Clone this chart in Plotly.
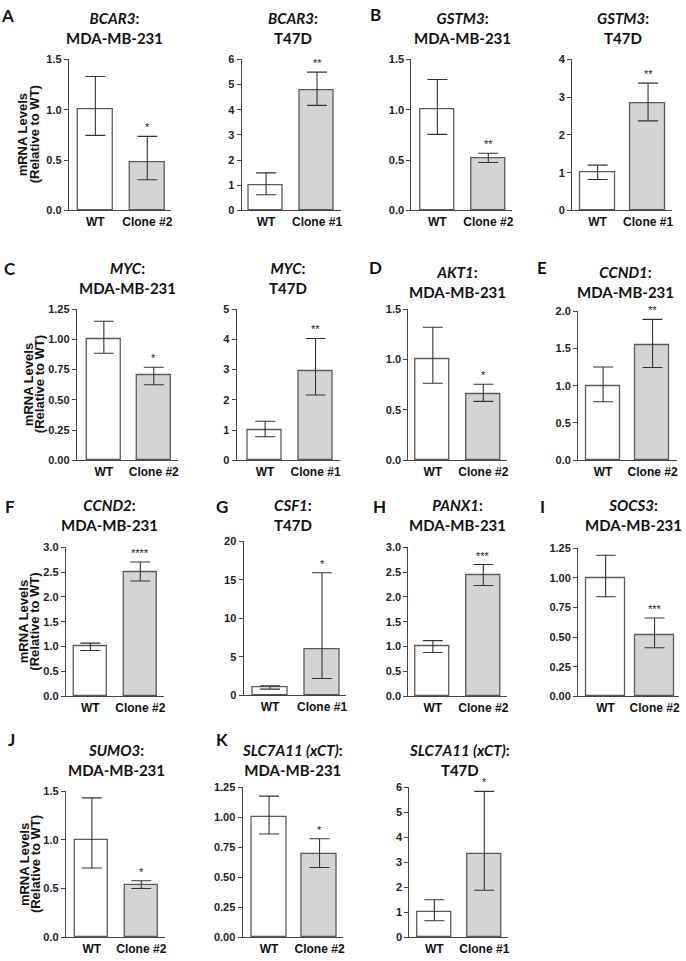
import plotly.graph_objects as go

# ---------------- data ----------------
genes = ["BCAR3", "BCAR3", "GSTM3", "GSTM3", "MYC", "MYC", "AKT1", "CCND1",
         "CCND2", "CSF1", "PANX1", "SOCS3", "SUMO3", "SLC7A11 (xCT)", "SLC7A11 (xCT)"]
cell_lines = ["MDA-MB-231", "T47D", "MDA-MB-231", "T47D", "MDA-MB-231", "T47D",
              "MDA-MB-231", "MDA-MB-231", "MDA-MB-231", "T47D", "MDA-MB-231",
              "MDA-MB-231", "MDA-MB-231", "MDA-MB-231", "T47D"]
clone_labels = ["Clone #2", "Clone #1", "Clone #2", "Clone #1", "Clone #2", "Clone #1",
                "Clone #2", "Clone #2", "Clone #2", "Clone #1", "Clone #2", "Clone #2",
                "Clone #2", "Clone #2", "Clone #1"]
panel_letters = ["A", "", "B", "", "C", "", "D", "E", "F", "G", "H", "I", "J", "K", ""]

wt_mean = [1.0, 1.0, 1.0, 1.0, 1.0, 1.0, 1.0, 1.0, 1.0, 1.0, 1.0, 1.0, 1.0, 1.0, 1.0]
wt_upper = [1.33, 1.49, 1.30, 1.20, 1.15, 1.29, 1.32, 1.25, 1.07, 1.24, 1.12, 1.19, 1.43, 1.175, 1.50]
wt_lower = [0.745, 0.62, 0.755, 0.82, 0.885, 0.78, 0.765, 0.785, 0.92, 0.80, 0.88, 0.84, 0.71, 0.86, 0.66]

clone_mean = [0.48, 4.78, 0.52, 2.83, 0.70, 2.94, 0.66, 1.54, 2.50, 5.94, 2.44, 0.52, 0.54, 0.69, 3.32]
clone_upper = [0.735, 5.49, 0.567, 3.37, 0.77, 4.03, 0.755, 1.89, 2.70, 15.9, 2.65, 0.66, 0.58, 0.82, 5.83]
clone_lower = [0.305, 4.17, 0.475, 2.37, 0.625, 2.16, 0.585, 1.245, 2.32, 2.18, 2.23, 0.41, 0.50, 0.58, 1.88]

significance = ["*", "**", "**", "**", "*", "**", "*", "**", "****", "*", "***", "***", "*", "*", "*"]

y_max = [1.5, 6, 1.5, 4, 1.25, 5, 1.5, 2.0, 3.0, 20, 3.0, 1.25, 1.5, 1.25, 6]
y_step = [0.5, 1, 0.5, 1, 0.25, 1, 0.5, 0.5, 0.5, 5, 0.5, 0.25, 0.5, 0.25, 1]
y_decimals = [1, 0, 1, 0, 2, 0, 1, 1, 1, 0, 1, 2, 1, 2, 0]

# ---------------- layout geometry (pixels) ----------------
W, H = 686, 961
# (axis left, WT centre, clone centre, bar width, y of zero, y of max)
geom = [
    (69, 95.5, 147.5, 35, 207, 54),
    (242, 266.5, 317.5, 34, 207, 54),
    (412, 438, 489, 34, 207, 54),
    (573, 598.5, 649, 35, 207, 54),
    (77, 104, 154, 34, 460, 307),
    (237, 265.5, 316, 34, 460, 307),
    (409, 433.5, 484, 34, 460, 307),
    (579, 604, 653.5, 34, 460, 309),
    (66, 90.5, 140.5, 33, 699, 548),
    (244, 270.5, 322.5, 35, 698, 542),
    (409, 433.5, 484, 34, 699, 548),
    (579, 606.5, 655.5, 39, 699, 549),
    (66, 92, 141.5, 33, 943, 795),
    (243, 269.5, 320, 35, 943, 791),
    (410, 435, 485, 34, 943, 791),
]
# title (centre x, middle y of the two lines)
title_pos = [
    (115, 22), (293, 22), (463, 22), (624, 22),
    (128, 275.5), (288, 275.5), (458, 279), (626, 279),
    (110, 515), (293, 515), (458, 515.5), (634, 515.5),
    (117, 763.5), (293, 763.5), (460, 763.5),
]
letter_pos = [(8, 10), None, (376, 9), None, (10, 266), None, (376, 265), (543, 265),
              (10, 507), (222, 507), (380, 507), (543, 507), (12, 743), (222, 743), None]
ylabel_pos = [(22, 34, 130), (28, 39, 383), (23, 34.5, 623), (24, 35, 869)]

TICK_FONT = dict(family="Liberation Sans, Arial", size=11, color="#222", weight="bold")
XLAB_FONT = dict(family="Liberation Sans, Arial", size=12, color="#111", weight="bold")
TITLE_FONT = dict(family="Lato, Open Sans", size=15, color="#111", weight="bold")
AXIS_COLOR = "#444"

fig = go.Figure()
layout = {}
annotations = []

def px(x):
    return x / W

def py(y):
    return 1 - y / H

for i in range(len(genes)):
    n = i + 1
    sfx = "" if n == 1 else str(n)
    xa, ya = "x" + sfx, "y" + sfx
    left, c0, c1, bw, yb, yt = geom[i]
    s = c1 - c0
    right = c1 + 24
    xr = [(left - c0) / s, (right - c0) / s]

    fig.add_trace(go.Bar(
        x=[0, 1], y=[wt_mean[i], clone_mean[i]], width=bw / s,
        marker=dict(color=["#ffffff", "#d4d4d4"], line=dict(color="#5a5a5a", width=1.3)),
        error_y=dict(type="data", symmetric=False,
                     array=[wt_upper[i] - wt_mean[i], clone_upper[i] - clone_mean[i]],
                     arrayminus=[wt_mean[i] - wt_lower[i], clone_mean[i] - clone_lower[i]],
                     color="#333333", thickness=1.1, width=10),
        xaxis=xa, yaxis=ya, showlegend=False, hoverinfo="skip"))

    layout["xaxis" + sfx] = dict(
        domain=[px(left), px(right)], range=xr, anchor=ya,
        tickmode="array", tickvals=[0, 1], ticktext=["WT", clone_labels[i]],
        showline=True, linecolor=AXIS_COLOR, linewidth=1.2, ticks="", ticklen=0,
        showgrid=False, zeroline=False, tickfont=XLAB_FONT, fixedrange=True)
    layout["yaxis" + sfx] = dict(
        domain=[py(yb), py(yt)], range=[0, y_max[i]], anchor=xa,
        tickmode="linear", tick0=0, dtick=y_step[i], tickformat=f".{y_decimals[i]}f",
        ticks="outside", ticklen=4, tickwidth=1.2, tickcolor=AXIS_COLOR,
        showline=True, linecolor=AXIS_COLOR, linewidth=1.2,
        showgrid=False, zeroline=False, tickfont=TICK_FONT, fixedrange=True)

    # significance stars
    annotations.append(dict(
        x=1, y=clone_upper[i], xref=xa, yref=ya, text=significance[i],
        showarrow=False, xanchor="center", yanchor="bottom", yshift=1,
        font=dict(family="Liberation Sans, Arial", size=11, color="#222222")))

    # two-line title
    tx, ty = title_pos[i]
    annotations.append(dict(
        x=px(tx), y=py(ty), xref="paper", yref="paper",
        text=f"<i>{genes[i]}</i>:<br>{cell_lines[i]}", showarrow=False,
        xanchor="center", yanchor="middle", align="center", font=TITLE_FONT))

    if panel_letters[i]:
        lx, ly = letter_pos[i]
        annotations.append(dict(
            x=px(lx), y=py(ly), xref="paper", yref="paper",
            text=panel_letters[i], showarrow=False,
            xanchor="center", yanchor="middle",
            font=dict(family="Lato, Open Sans", size=17, color="#111", weight="bold")))

for (x1, x2, yc) in ylabel_pos:
    for xx, txt in ((x1, "mRNA Levels"), (x2, "(Relative to WT)")):
        annotations.append(dict(
            x=px(xx), y=py(yc), xref="paper", yref="paper", text=txt,
            textangle=-90, showarrow=False, xanchor="center", yanchor="middle",
            font=dict(family="Liberation Sans, Arial", size=13, color="#111", weight="bold")))

fig.update_layout(
    width=W, height=H, margin=dict(l=0, r=0, t=0, b=0),
    paper_bgcolor="white", plot_bgcolor="white",
    bargap=0, annotations=annotations, **layout)

fig.write_html("out.html", config={"displayModeBar": False},
               post_script="document.body.style.margin='0px';document.body.style.overflow='hidden';")
